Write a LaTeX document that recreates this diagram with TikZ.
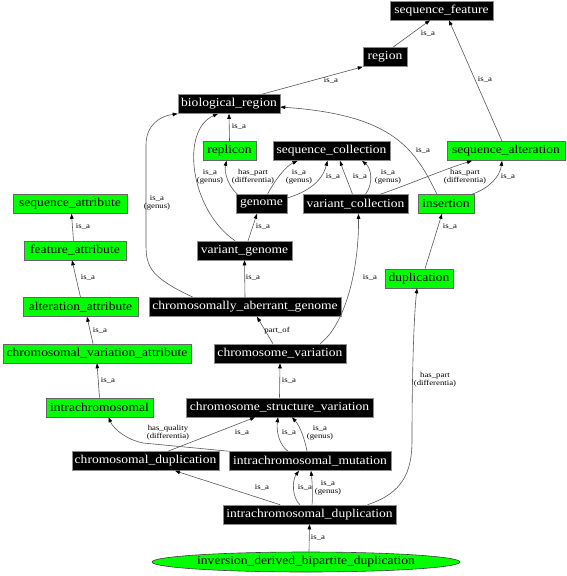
\documentclass[tikz,border=0pt]{standalone}
\usepackage{fontspec}
\setmainfont{Liberation Serif}
\usepackage{graphicx}
\usetikzlibrary{arrows.meta,shapes.geometric}
\newcommand\st[1]{\scalebox{1.13}[1]{#1}}
\newcommand\lt[1]{\scalebox{1.17}[1]{\begin{tabular}{@{}c@{}}#1\end{tabular}}}
\begin{document}
\begin{tikzpicture}[x=1pt,y=-1pt,
 base/.style={rectangle, inner sep=0pt, minimum height=19, font=\fontsize{12}{14}\selectfont, line width=0.6pt},
 bk/.style={base, fill=black, draw=black!45, text=white},
 gr/.style={base, fill=green, draw=black!60, text=black},
 lab/.style={inner sep=0pt, font=\fontsize{7.5}{8}\selectfont},
 edge/.style={draw=black!65, line width=0.6pt, -{Triangle[length=5pt,width=3.6pt,color=black]}},
]
\useasboundingbox[fill=white] (0,0) rectangle (567,576);

\node[bk,minimum width=103] (sf) at (441.5,10.5) {\st{sequence\_feature}};
\node[bk,minimum width=44] (region) at (385,57) {\st{region}};
\node[bk,minimum width=102] (bio) at (229,104) {\st{biological\_region}};
\node[gr,minimum width=53] (replicon) at (229.5,151) {\st{replicon}};
\node[bk,minimum width=117] (seqcol) at (331.5,151) {\st{sequence\_collection}};
\node[gr,minimum width=118] (seqalt) at (506,151) {\st{sequence\_alteration}};
\node[bk,minimum width=51] (genome) at (261.5,204) {\st{genome}};
\node[bk,minimum width=105] (varcol) at (355.5,204) {\st{variant\_collection}};
\node[gr,minimum width=56] (insertion) at (446,204) {\st{insertion}};
\node[gr,minimum width=114] (seqattr) at (70,204) {\st{sequence\_attribute}};
\node[gr,minimum width=102] (featattr) at (75,250.5) {\st{feature\_attribute}};
\node[bk,minimum width=95] (vargen) at (244.5,250.5) {\st{variant\_genome}};
\node[gr,minimum width=115] (altattr) at (80.5,307) {\st{alteration\_attribute}};
\node[bk,minimum width=192] (cab) at (245,307) {\st{chromosomally\_aberrant\_genome}};
\node[gr,minimum width=68] (dup) at (419,278.5) {\st{duplication}};
\node[gr,minimum width=188] (cva) at (97,353.5) {\st{chromosomal\_variation\_attribute}};
\node[bk,minimum width=132] (cv) at (280,353.5) {\st{chromosome\_variation}};
\node[gr,minimum width=107] (intra) at (99.5,407.5) {\st{intrachromosomal}};
\node[bk,minimum width=187] (csv) at (279.5,407.5) {\st{chromosome\_structure\_variation}};
\node[bk,minimum width=147] (cdup) at (145.5,461) {\st{chromosomal\_duplication}};
\node[bk,minimum width=162] (imut) at (310,461) {\st{intrachromosomal\_mutation}};
\node[bk,minimum width=173] (idup) at (309.5,514.5) {\st{intrachromosomal\_duplication}};
\node[gr,ellipse,minimum width=308,minimum height=20,draw=black!75] (idbd) at (306,562) {\st{inversion\_derived\_bipartite\_duplication}};

% edges
\draw[edge] ([xshift=8]region.north) -- ([xshift=-11.5]sf.south);
\draw[edge] ([xshift=-4]seqalt.north) -- ([xshift=7.5]sf.south);
\draw[edge] ([xshift=33]bio.north) -- (region.south west);
\draw[edge] (replicon.north) -- (bio.south);
\draw[edge] ([xshift=-9]insertion.north) .. controls (415,150) and (395,115) .. ([yshift=-3]bio.east);
\draw[edge] ([xshift=6]genome.north) .. controls (275,180) and (286,166) .. ([xshift=-34]seqcol.south);
\draw[edge] ([yshift=6]genome.east) .. controls (307,192) and (322,182) .. ([xshift=-4]seqcol.south);
\draw[edge] ([xshift=-24]genome.north) .. controls (228,186) and (224,172) .. ([xshift=-3]replicon.south);
\draw[edge] ([xshift=-9.5]vargen.north) .. controls (190,210) and (180,130) .. ([xshift=-11]bio.south);
\draw[edge] ([xshift=-52]cab.north) .. controls (152,278) and (146,268) .. (146,245) -- (146,145) .. controls (146,125) and (160,116) .. (bio.south west);
\draw[edge] (cab.north) -- (vargen.south);
\draw[edge] ([xshift=3.5]vargen.north) -- ([xshift=-4.5]genome.south);
\draw[edge] ([xshift=40]cv.north) .. controls (345,325) and (359,270) .. ([xshift=3]varcol.south);
\draw[edge] ([xshift=-7]cv.north) -- ([xshift=12]cab.south);
\draw[edge] ([xshift=-3]varcol.north) .. controls (348,182) and (343,170) .. ([xshift=8.5]seqcol.south);
\draw[edge] ([xshift=10]varcol.north) .. controls (374,183) and (371,168) .. ([xshift=30.5]seqcol.south);
\draw[edge] ([xshift=25]varcol.north) .. controls (410,184) and (445,169) .. ([xshift=-34]seqalt.south);
\draw[edge] ([xshift=26]insertion.north) .. controls (490,188) and (500,176) .. ([xshift=-4]seqalt.south);
\draw[edge] ([xshift=6]dup.north) -- ([xshift=-4]insertion.south);
\draw[edge] ([xshift=58]idup.north) .. controls (403,493) and (412,472) .. (412,440) .. controls (412,370) and (414,315) .. ([xshift=-2]dup.south);
\draw[edge] (intra.north) -- (cva.south);
\draw[edge] (csv.north) -- (cv.south);
\draw[edge] ([xshift=-1.5]featattr.north) -- ([xshift=1.5]seqattr.south);
\draw[edge] (altattr.north) -- ([xshift=-3]featattr.south);
\draw[edge] ([xshift=-4]cva.north) -- ([xshift=6.5]altattr.south);
\draw[edge] (imut.north west) -- (143,443) .. controls (128,440) and (114,430) .. ([xshift=9]intra.south);
\draw[edge] ([xshift=22.5]cdup.north) -- ([xshift=-24.5]csv.south);
\draw[edge] ([xshift=-22]imut.north) .. controls (280,446) and (276,432) .. ([xshift=-1.5]csv.south);
\draw[edge] ([xshift=-3]imut.north) .. controls (305,440) and (300,426) .. ([xshift=12.5]csv.south);
\draw[edge] ([xshift=-29.5]idup.north) -- ([xshift=29.5]cdup.south);
\draw[edge] ([xshift=-9.5]idup.north) .. controls (292,498) and (292,480) .. ([xshift=-11]imut.south);
\draw[edge] ([xshift=2.5]idup.north) .. controls (313,495) and (312,480) .. ([xshift=1]imut.south);
\draw[edge] ([xshift=3]idbd.north) -- (idup.south);

% labels
\node[lab] (l1) at (428,34) {\lt{is\_a}};
\node[lab] (l2) at (485,80) {\lt{is\_a}};
\node[lab] (l3) at (331,81) {\lt{is\_a}};
\node[lab] (l4) at (239,127) {\lt{is\_a}};
\node[lab] (l5) at (423,151) {\lt{is\_a}};
\node[lab] (l6) at (253,177) {\lt{has\_part\\(differentia)}};
\node[lab] (l7) at (210,177) {\lt{is\_a\\(genus)}};
\node[lab] (l8) at (299,177) {\lt{is\_a\\(genus)}};
\node[lab] (l9) at (333,177) {\lt{is\_a}};
\node[lab] (l10) at (360,177) {\lt{is\_a}};
\node[lab] (l11) at (388,177) {\lt{is\_a\\(genus)}};
\node[lab] (l12) at (465,177) {\lt{has\_part\\(differentia)}};
\node[lab] (l13) at (508,177) {\lt{is\_a}};
\node[lab] (l14) at (157,203) {\lt{is\_a\\(genus)}};
\node[lab] (l15) at (83,227) {\lt{is\_a}};
\node[lab] (l16) at (263,227) {\lt{is\_a}};
\node[lab] (l17) at (450,227) {\lt{is\_a}};
\node[lab] (l18) at (88,278) {\lt{is\_a}};
\node[lab] (l19) at (253,278) {\lt{is\_a}};
\node[lab] (l20) at (370,278) {\lt{is\_a}};
\node[lab] (l21) at (100,331) {\lt{is\_a}};
\node[lab] (l22) at (277,331) {\lt{part\_of}};
\node[lab] (l23) at (435,380) {\lt{has\_part\\(differentia)}};
\node[lab] (l24) at (108,381) {\lt{is\_a}};
\node[lab] (l25) at (289,381) {\lt{is\_a}};
\node[lab] (l26) at (168,433) {\lt{has\_quality\\(differentia)}};
\node[lab] (l27) at (242,433) {\lt{is\_a}};
\node[lab] (l28) at (289,433) {\lt{is\_a}};
\node[lab] (l29) at (320,433) {\lt{is\_a\\(genus)}};
\node[lab] (l30) at (262,488) {\lt{is\_a}};
\node[lab] (l31) at (305,488) {\lt{is\_a}};
\node[lab] (l32) at (328,488) {\lt{is\_a\\(genus)}};
\node[lab] (l33) at (318,538) {\lt{is\_a}};
\end{tikzpicture}
\end{document}
